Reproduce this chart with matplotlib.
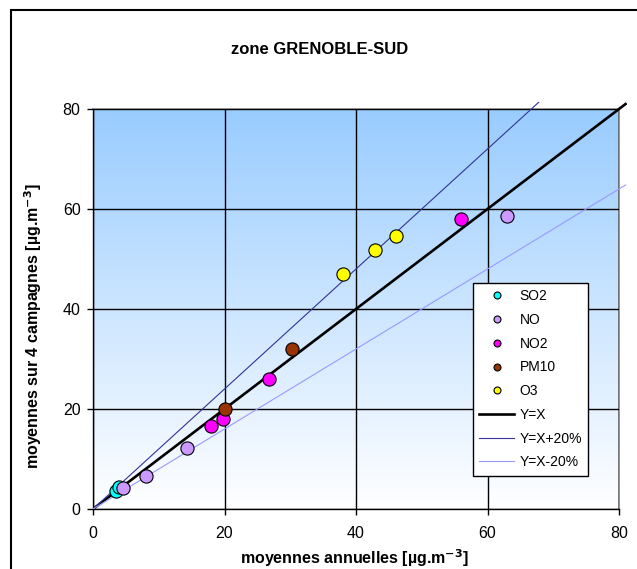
import numpy as np
import matplotlib
matplotlib.use("Agg")
import matplotlib.pyplot as plt
from matplotlib.patches import Rectangle
from matplotlib.lines import Line2D
from matplotlib.colors import LinearSegmentedColormap

plt.rcParams['font.family'] = ['Liberation Sans', 'DejaVu Sans']

title = "zone GRENOBLE-SUD"
xlabel = "moyennes annuelles [µg.m$^{\\mathbf{-3}}$]"
ylabel = "moyennes sur 4 campagnes [µg.m$^{\\mathbf{-3}}$]"
ticks = [0, 20, 40, 60, 80]

series_names = ["SO2", "NO", "NO2", "PM10", "O3"]
series_colors = ["#00FFFF", "#CC99FF", "#FF00FF", "#993300", "#FFFF00"]
so2_x = [3.5, 4.0]
so2_y = [3.6, 4.5]
no_x = [4.6, 8.0, 14.3, 62.9]
no_y = [4.3, 6.6, 12.3, 58.6]
no2_x = [18.0, 19.7, 26.7, 56.0]
no2_y = [16.7, 18.1, 26.1, 57.9]
pm10_x = [20.0, 30.3]
pm10_y = [20.1, 32.1]
o3_x = [38.0, 42.9, 46.1]
o3_y = [47.0, 51.7, 54.5]

ref_names = ["Y=X", "Y=X+20%", "Y=X-20%"]
ref_factors = [1.0, 1.2, 0.8]
ref_colors = ["#000000", "#333399", "#9999FF"]
ref_widths = [1.9, 0.8, 0.8]
line_x = [0, 81]

W, H = 637, 569
fig = plt.figure(figsize=(W / 100, H / 100), dpi=100)
L, R, T, B = 93, 619, 109, 509
ax = fig.add_axes([L / W, 1 - B / H, (R - L) / W, (B - T) / H])

# outer frame
fig.patches.append(Rectangle((11 / W, -0.1), 1.2, 1 - 10 / H + 0.1, transform=fig.transFigure,
                             fill=False, edgecolor="black", linewidth=1.5, zorder=0))

# gradient background
cmap = LinearSegmentedColormap.from_list("bg", ["#FFFFFF", "#99CCFF"])
grad = np.linspace(0, 1, 256).reshape(-1, 1)
ax.imshow(grad, extent=[0, 1, 0, 1], transform=ax.transAxes, origin="lower",
          cmap=cmap, aspect="auto", zorder=0)

ax.set_xlim(0, 80)
ax.set_ylim(0, 80)
ax.set_xticks(ticks)
ax.set_yticks(ticks)
ax.grid(True, color="black", linewidth=1.0, zorder=1)
ax.set_axisbelow(False)

clip = Rectangle((0, 0), 81.2, 81.3, transform=ax.transData, visible=False)
ax.add_patch(clip)

handles = []
for name, f, c, lw in zip(ref_names, ref_factors, ref_colors, ref_widths):
    ln, = ax.plot(line_x, [v * f for v in line_x], color=c, linewidth=lw, label=name,
                  clip_on=True, zorder=3)
    ln.set_clip_path(clip)
    handles.append(ln)

pts = []
for name, c, xs, ys in zip(series_names, series_colors,
                           [so2_x, no_x, no2_x, pm10_x, o3_x],
                           [so2_y, no_y, no2_y, pm10_y, o3_y]):
    p, = ax.plot(xs, ys, linestyle="none", marker="o", markersize=9.5,
                 markerfacecolor=c, markeredgecolor="black", markeredgewidth=0.8,
                 label=name, zorder=4, clip_on=False)
    pts.append(p)

for s in ["top", "right"]:
    ax.spines[s].set_color("#808080")
    ax.spines[s].set_linewidth(1.2)
for s in ["left", "bottom"]:
    ax.spines[s].set_color("black")
    ax.spines[s].set_linewidth(1.0)
ax.tick_params(direction="out", length=4, width=1, labelsize=11.5)
ax.tick_params(axis="x", pad=8)
ax.tick_params(axis="y", pad=5)

fig.text(355 / W, 1 - 558 / H, xlabel, fontsize=11.5, fontweight="bold",
         ha="center", va="center")
fig.text(33 / W, 1 - 326 / H, ylabel, fontsize=11.5, fontweight="bold",
         ha="center", va="center", rotation=90)
fig.text(320 / W, 1 - 50 / H, title, fontsize=12, fontweight="bold", ha="center", va="center")

leg_handles = []
for p in pts:
    leg_handles.append(Line2D([], [], linestyle="none", marker="o", markersize=5,
                              markerfacecolor=p.get_markerfacecolor(), markeredgecolor="black",
                              markeredgewidth=0.8))
leg_handles += handles
leg = ax.legend(leg_handles, series_names + ref_names, loc="upper left",
                bbox_to_anchor=((473 - L) / (R - L), (B - 283) / (B - T)),
                fontsize=10, frameon=True, fancybox=False, edgecolor="black",
                framealpha=1, borderpad=0.45, labelspacing=0.7, handlelength=2.5,
                handletextpad=0.4, borderaxespad=0)
leg.get_frame().set_linewidth(1.0)
leg.set_zorder(6)

fig.savefig("out.png", dpi=100)
